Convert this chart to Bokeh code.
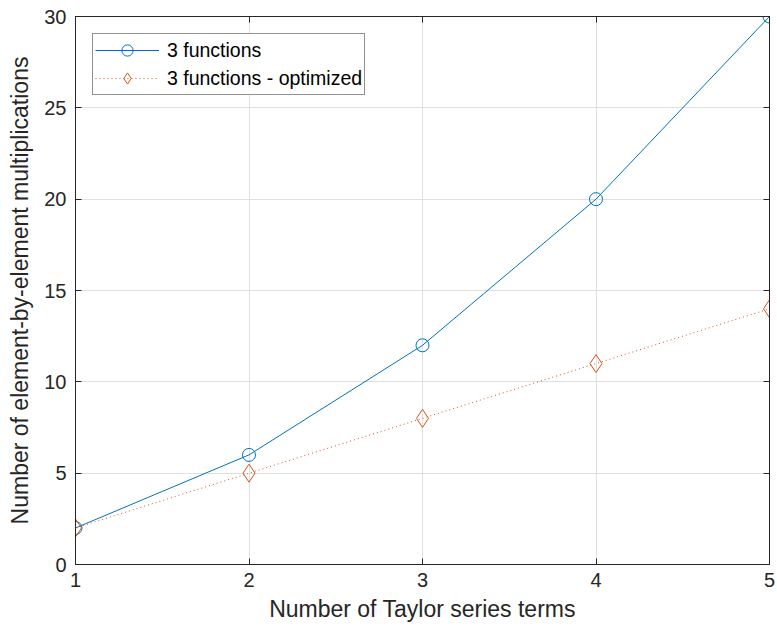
from bokeh.plotting import figure
from bokeh.models import LinearAxis, Legend, LegendItem, FixedTicker, Range1d
from bokeh.embed import file_html
from bokeh.resources import INLINE

terms = [1, 2, 3, 4, 5]
three_functions = [2, 6, 12, 20, 30]
three_functions_opt = [2, 5, 8, 11, 14]
x_ticks = [1, 2, 3, 4, 5]
y_ticks = [0, 5, 10, 15, 20, 25, 30]

BLUE = "#0072BD"
ORANGE = "#D95319"
FONT = "Liberation Sans"

p = figure(width=777, height=635, output_backend="svg", toolbar_location=None,
           x_range=Range1d(1, 5), y_range=Range1d(0, 30),
           min_border_left=75, min_border_right=8, min_border_top=16, min_border_bottom=71,
           x_axis_label="Number of Taylor series terms",
           y_axis_label="Number of element-by-element multiplications")
p.outline_line_color = "#262626"
p.outline_line_width = 1
p.outline_line_alpha = 1

for ax, ticks in ((p.xaxis[0], x_ticks), (p.yaxis[0], y_ticks)):
    ax.ticker = FixedTicker(ticks=ticks)
    ax.major_tick_in = 6
    ax.major_tick_out = 0
    ax.minor_tick_line_color = None
    ax.axis_line_color = "#262626"
    ax.major_tick_line_color = "#262626"
    ax.major_label_text_font = FONT
    ax.major_label_text_font_size = "20px"
    ax.major_label_text_color = "#262626"
    ax.axis_label_text_font = FONT
    ax.axis_label_text_font_size = "23px"
    ax.axis_label_text_font_style = "normal"
    ax.axis_label_text_color = "#262626"
p.xaxis[0].major_label_standoff = 8
p.yaxis[0].major_label_standoff = 9
p.xaxis[0].axis_label_standoff = 6
p.yaxis[0].axis_label_standoff = 8

for loc, ticks in (("above", x_ticks), ("right", y_ticks)):
    ax = LinearAxis(ticker=FixedTicker(ticks=ticks), major_tick_in=6, major_tick_out=0,
                    minor_tick_line_color=None, major_label_text_font_size="0px",
                    major_label_text_alpha=0, axis_line_color="#262626",
                    major_tick_line_color="#262626", major_label_standoff=0)
    p.add_layout(ax, loc)

p.xgrid.ticker = FixedTicker(ticks=x_ticks)
p.ygrid.ticker = FixedTicker(ticks=y_ticks)
p.grid.grid_line_color = "#dfdfdf"
p.grid.grid_line_alpha = 1

l1 = p.line(terms, three_functions, line_color=BLUE, line_width=1)
m1 = p.scatter(terms, three_functions, marker="circle", size=13, fill_color=None,
               line_color=BLUE, line_width=1)
l2 = p.line(terms, three_functions_opt, line_color=ORANGE, line_width=1, line_dash="1 3")
m2 = p.scatter(terms, three_functions_opt, marker="diamond", size=18, fill_color=None,
               line_color=ORANGE, line_width=1)

legend = Legend(items=[LegendItem(label="3 functions", renderers=[l1, m1]),
                       LegendItem(label="3 functions - optimized", renderers=[l2, m2])],
                location="top_left")
legend.label_text_font = FONT
legend.label_text_font_size = "19.5px"
legend.label_text_color = "#000000"
legend.border_line_color = "#262626"
legend.border_line_width = 1
legend.glyph_width = 64
legend.glyph_height = 28
legend.spacing = 0
legend.padding = 2
legend.margin = 17
legend.label_standoff = 8
legend.label_height = 20
p.add_layout(legend)

open("out.html", "w").write(file_html(p, INLINE))
